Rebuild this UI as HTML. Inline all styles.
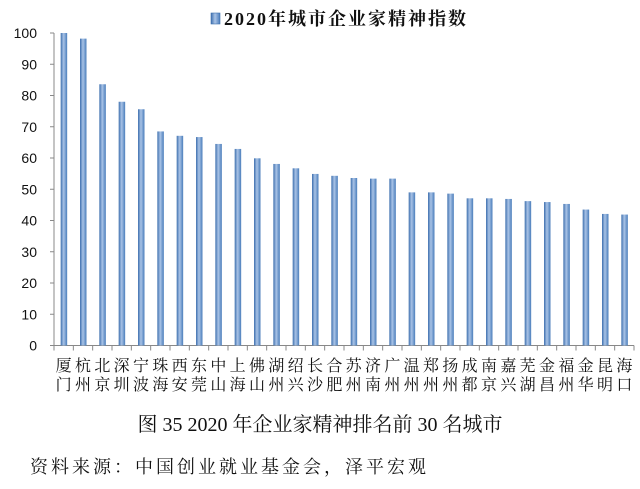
<!DOCTYPE html>
<html><head><meta charset="utf-8"><style>
body{margin:0;background:#fff;width:640px;height:489px;overflow:hidden}
svg{display:block}
</style></head><body>
<svg id="chart" width="640" height="489" xmlns="http://www.w3.org/2000/svg">
<defs><linearGradient id="bg" x1="0" x2="1" y1="0" y2="0">
<stop offset="0" stop-color="#3d6fae"/><stop offset="0.45" stop-color="#a9c3e6"/><stop offset="1" stop-color="#4a7dbb"/></linearGradient></defs>
<g>
<rect x="211" y="13" width="9" height="11" fill="url(#bg)" stroke="#3d6fae" stroke-width="0.6"/>
<text x="224" y="25" font-family="Liberation Serif, Noto Serif CJK SC, serif" font-weight="bold" font-size="18" letter-spacing="2" fill="#111">2020年城市企业家精神指数</text>
</g>
<g id="axes"></g>
<g id="bars"></g>
<text x="320" y="431" text-anchor="middle" font-family="Liberation Serif, Noto Serif CJK SC, serif" font-size="20" fill="#111">图 35 2020 年企业家精神排名前 30 名城市</text>
<text x="30" y="473" font-family="Liberation Serif, Noto Serif CJK SC, serif" font-size="18" letter-spacing="3" fill="#111">资料来源：中国创业就业基金会，泽平宏观</text>
</svg>
<script>
const categories=["厦门","杭州","北京","深圳","宁波","珠海","西安","东莞","中山","上海","佛山","湖州","绍兴","长沙","合肥","苏州","济南","广州","温州","郑州","扬州","成都","南京","嘉兴","芜湖","金昌","福州","金华","昆明","海口"];
const values=[100,98.2,83.6,78.0,75.6,68.5,67.1,66.7,64.5,62.9,59.9,58.1,56.7,54.9,54.3,53.6,53.4,53.4,49.0,49.0,48.6,47.1,47.1,46.9,46.2,45.9,45.3,43.5,42.1,41.9];
const yTicks=[0,10,20,30,40,50,60,70,80,90,100];
const NS="http://www.w3.org/2000/svg";
const x0=54,x1=634,yTop=33,yBot=345.5,yMax=100;
const slot=(x1-x0)/categories.length;
const yS=v=>yBot-(v/yMax)*(yBot-yTop);
const xS=i=>x0+slot*(i+0.5);
const axes=document.getElementById('axes'),bars=document.getElementById('bars');
function mk(tag,attrs,parent,txt){const e=document.createElementNS(NS,tag);for(const k in attrs)e.setAttribute(k,attrs[k]);if(txt!==undefined)e.textContent=txt;parent.appendChild(e);return e;}
let yl=mk('line',{x1:x0,x2:x0,y1:yTop,y2:yBot,stroke:'#888','stroke-width':1},axes);


yTicks.forEach(t=>{
 let tk=mk('line',{x1:x0-4,x2:x0,y1:yS(t),y2:yS(t),stroke:'#888'},axes);
 
 
 let lb=mk('text',{x:37,y:yS(t)+5,'text-anchor':'end','font-family':'Liberation Sans, sans-serif','font-size':14,fill:'#111'},axes,String(t));
 
 
});
let xl=mk('line',{x1:x0,x2:x1,y1:yBot,y2:yBot,stroke:'#888','stroke-width':1},axes);


for(let i=0;i<=categories.length;i++){
 let tk=mk('line',{x1:x0+slot*i,x2:x0+slot*i,y1:yBot,y2:yBot+5,stroke:'#888'},axes);
 
 
}
categories.forEach((c,i)=>{
 const cx=xS(i);
 let r=mk('rect',{x:cx-3,y:yS(values[i]),width:6.5,height:yBot-yS(values[i]),fill:'url(#bg)'},bars);
 
 
 let t=mk('text',{x:cx,y:371,'text-anchor':'middle','font-family':'Noto Serif CJK SC, serif','font-size':16,fill:'#111'},axes,c[0]);
 
 
 let t2=mk('text',{x:cx,y:390,'text-anchor':'middle','font-family':'Noto Serif CJK SC, serif','font-size':16,fill:'#111'},axes,c[1]);
 
 
});
</script>
</body></html>
